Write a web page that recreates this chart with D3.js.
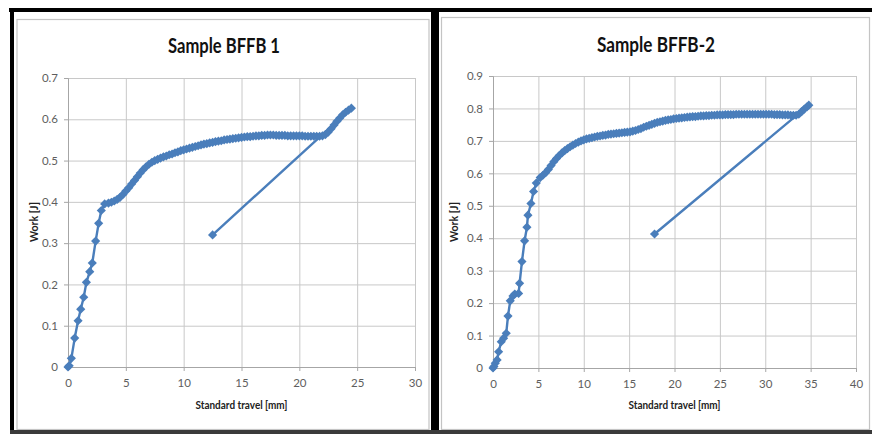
<!DOCTYPE html>
<html><head><meta charset="utf-8">
<script src="https://cdn.jsdelivr.net/npm/d3@7"></script>
<style>body{margin:0;background:#fff}svg{display:block}</style>
</head><body>
<svg id="c" width="872" height="434"></svg>
<script>
// ---- data: Sample BFFB 1 ----
const x1 = [0,0.1,0.29,0.58,0.87,1.1,1.36,1.59,1.88,2.1,2.39,2.65,2.88,3.17,3.5,3.75,4.0,4.25,4.5,4.75,5.0,5.25,5.5,5.75,6.0,6.25,6.5,6.75,7.0,7.25,7.5,7.75,8.0,8.25,8.5,8.75,9.0,9.25,9.5,9.75,10.0,10.25,10.5,10.75,11.0,11.25,11.5,11.75,12.0,12.25,12.5,12.75,13.0,13.25,13.5,13.75,14.0,14.25,14.5,14.75,15.0,15.25,15.5,15.75,16.0,16.25,16.5,16.75,17.0,17.25,17.5,17.75,18.0,18.25,18.5,18.75,19.0,19.25,19.5,19.75,20.0,20.25,20.5,20.75,21.0,21.25,21.5,21.75,22.0,22.25,22.5,22.75,23.0,23.25,23.5,23.75,24.0,24.25,24.5,12.5];
const y1 = [0,0.003,0.021,0.07,0.112,0.14,0.169,0.205,0.231,0.252,0.305,0.348,0.379,0.395,0.397,0.399,0.402,0.406,0.411,0.418,0.426,0.434,0.443,0.452,0.461,0.47,0.478,0.485,0.491,0.496,0.5,0.503,0.506,0.509,0.511,0.514,0.516,0.519,0.521,0.524,0.526,0.528,0.53,0.532,0.534,0.536,0.538,0.54,0.541,0.543,0.544,0.546,0.547,0.548,0.55,0.551,0.552,0.553,0.554,0.555,0.556,0.557,0.558,0.558,0.559,0.56,0.56,0.561,0.561,0.562,0.562,0.562,0.561,0.561,0.561,0.561,0.56,0.56,0.56,0.56,0.56,0.56,0.559,0.559,0.559,0.559,0.559,0.559,0.56,0.563,0.569,0.577,0.586,0.595,0.603,0.611,0.617,0.622,0.627,0.32];
// ---- data: Sample BFFB-2 ----
const x2 = [0,0.1,0.25,0.45,0.62,0.91,1.17,1.46,1.65,1.9,2.2,2.4,2.82,2.93,3.19,3.48,3.74,3.85,4.18,4.47,4.77,5.2,5.5,5.8,6.1,6.4,6.7,7.0,7.3,7.6,7.9,8.2,8.5,8.8,9.1,9.4,9.7,10.0,10.3,10.6,10.9,11.2,11.5,11.8,12.1,12.4,12.7,13.0,13.3,13.6,13.9,14.2,14.5,14.8,15.1,15.4,15.7,16.0,16.3,16.6,16.9,17.2,17.5,17.8,18.1,18.4,18.7,19.0,19.3,19.6,19.9,20.2,20.5,20.8,21.1,21.4,21.7,22.0,22.3,22.6,22.9,23.2,23.5,23.8,24.1,24.4,24.7,25.0,25.3,25.6,25.9,26.2,26.5,26.8,27.1,27.4,27.7,28.0,28.3,28.6,28.9,29.2,29.5,29.8,30.1,30.4,30.7,31.0,31.3,31.6,31.9,32.2,32.5,32.8,33.1,33.4,33.7,34.0,34.3,34.6,34.8,17.8];
const y2 = [0,0.005,0.015,0.025,0.05,0.081,0.092,0.107,0.16,0.207,0.222,0.228,0.23,0.261,0.328,0.392,0.434,0.471,0.507,0.544,0.57,0.587,0.594,0.602,0.612,0.624,0.636,0.646,0.655,0.663,0.67,0.676,0.682,0.687,0.692,0.696,0.7,0.703,0.706,0.708,0.71,0.712,0.714,0.715,0.717,0.718,0.72,0.721,0.722,0.723,0.724,0.725,0.726,0.727,0.728,0.73,0.732,0.735,0.738,0.742,0.745,0.748,0.751,0.754,0.757,0.759,0.761,0.763,0.765,0.766,0.768,0.769,0.77,0.771,0.772,0.773,0.774,0.775,0.775,0.776,0.777,0.777,0.778,0.778,0.779,0.779,0.78,0.78,0.78,0.781,0.781,0.781,0.781,0.782,0.782,0.782,0.782,0.782,0.782,0.782,0.782,0.782,0.782,0.782,0.782,0.782,0.782,0.781,0.781,0.781,0.78,0.78,0.78,0.779,0.779,0.779,0.782,0.79,0.798,0.805,0.81,0.413];
const xTicks1 = [0,5,10,15,20,25,30];
const yTicks1 = [0,0.1,0.2,0.3,0.4,0.5,0.6,0.7];
const xTicks2 = [0,5,10,15,20,25,30,35,40];
const yTicks2 = [0,0.1,0.2,0.3,0.4,0.5,0.6,0.7,0.8,0.9];
const titles = ["Sample BFFB 1","Sample BFFB-2"];
const xTitle = "Standard travel [mm]";
const yTitle = "Work [J]";

const svg = d3.select("#c");
const BLUE = "#4a7ebb", GRID = "#c8c8c8", TXT = "#5e5e5e";

// frames
svg.append("rect").attr("x",17).attr("y",19.5).attr("width",412).attr("height",410).attr("fill","none").attr("stroke","#c4c4c4").attr("stroke-width",1.2);
svg.append("rect").attr("x",441.5).attr("y",17.5).attr("width",428).attr("height",412).attr("fill","none").attr("stroke","#c4c4c4").attr("stroke-width",1.2);
svg.append("rect").attr("x",9).attr("y",8).attr("width",863).attr("height",4).attr("fill","#000");
svg.append("rect").attr("x",10).attr("y",8).attr("width",4).attr("height",426).attr("fill","#000");
svg.append("rect").attr("x",431).attr("y",8).attr("width",8).attr("height",426).attr("fill","#000");
svg.append("rect").attr("x",10).attr("y",430).attr("width",862).attr("height",4).attr("fill","#3a3a3a");

function chart(cfg){
  const x = d3.scaleLinear().domain(cfg.xd).range([cfg.x0,cfg.x1]);
  const y = d3.scaleLinear().domain(cfg.yd).range([cfg.y0,cfg.y1]);
  const g = svg.append("g");
  // gridlines
  g.append("g").attr("transform",`translate(0,${cfg.y0})`)
    .call(d3.axisBottom(x).tickValues(cfg.xt).tickSize(-(cfg.y0-cfg.y1)).tickFormat(""))
    .call(a=>{a.select(".domain").remove();a.selectAll("line").attr("stroke",GRID);});
  g.append("g").attr("transform",`translate(${cfg.x0},0)`)
    .call(d3.axisLeft(y).tickValues(cfg.yt).tickSize(-(cfg.x1-cfg.x0)).tickFormat(""))
    .call(a=>{a.select(".domain").remove();a.selectAll("line").attr("stroke",GRID);});
  // axes
  const ax = g.append("g").attr("transform",`translate(0,${cfg.y0})`)
    .call(d3.axisBottom(x).tickValues(cfg.xt).tickSize(4).tickPadding(8).tickFormat(d3.format("d")));
  const ay = g.append("g").attr("transform",`translate(${cfg.x0},0)`)
    .call(d3.axisLeft(y).tickValues(cfg.yt).tickSize(4).tickPadding(6).tickFormat(d=>d===0?"0":d3.format(".1f")(d)));
  [ax,ay].forEach(a=>{
    a.select(".domain").attr("stroke","#a6a6a6");
    a.selectAll("line").attr("stroke","#a6a6a6");
    a.selectAll("text").attr("fill",TXT).attr("font-family","Lato, sans-serif").attr("font-size",11.5);
  });
  // titles
  g.append("text").attr("x",cfg.tx).attr("y",cfg.ty).attr("text-anchor","middle")
    .attr("font-family","Lato, sans-serif").attr("font-weight","bold").attr("font-size",21).attr("fill","#111")
    .attr("textLength",cfg.tw).attr("lengthAdjust","spacingAndGlyphs").text(cfg.title);
  g.append("text").attr("x",(cfg.x0+cfg.x1)/2).attr("y",409).attr("text-anchor","middle")
    .attr("font-family","Lato, sans-serif").attr("font-weight","bold").attr("font-size",11).attr("fill","#222")
    .attr("textLength",92).attr("lengthAdjust","spacingAndGlyphs").text(xTitle);
  g.append("text").attr("transform",`translate(${cfg.yx},222) rotate(-90)`).attr("text-anchor","middle")
    .attr("font-family","Lato, sans-serif").attr("font-weight","bold").attr("font-size",11).attr("fill","#222")
    .attr("textLength",40).attr("lengthAdjust","spacingAndGlyphs").text(yTitle);
  // series
  const pts = cfg.xs.map((v,i)=>[v,cfg.ys[i]]);
  g.append("path").datum(pts).attr("fill","none").attr("stroke",BLUE).attr("stroke-width",2.4)
    .attr("stroke-linejoin","round")
    .attr("d",d3.line().x(d=>x(d[0])).y(d=>y(d[1])));
  const sym = d3.symbol().type(d3.symbolSquare).size(42);
  g.selectAll("path.m").data(pts).join("path").attr("class","m")
    .attr("transform",d=>`translate(${x(d[0])},${y(d[1])}) rotate(45)`)
    .attr("d",sym).attr("fill",BLUE);
}

chart({xd:[0,30],yd:[0,0.7],x0:68,x1:415,y0:367,y1:78,xt:xTicks1,yt:yTicks1,xs:x1,ys:y1,title:titles[0],tx:224,ty:53,tw:112,yx:38});
chart({xd:[0,40],yd:[0,0.9],x0:493,x1:856,y0:368,y1:76,xt:xTicks2,yt:yTicks2,xs:x2,ys:y2,title:titles[1],tx:656,ty:52,tw:118,yx:458});
</script>
</body></html>
